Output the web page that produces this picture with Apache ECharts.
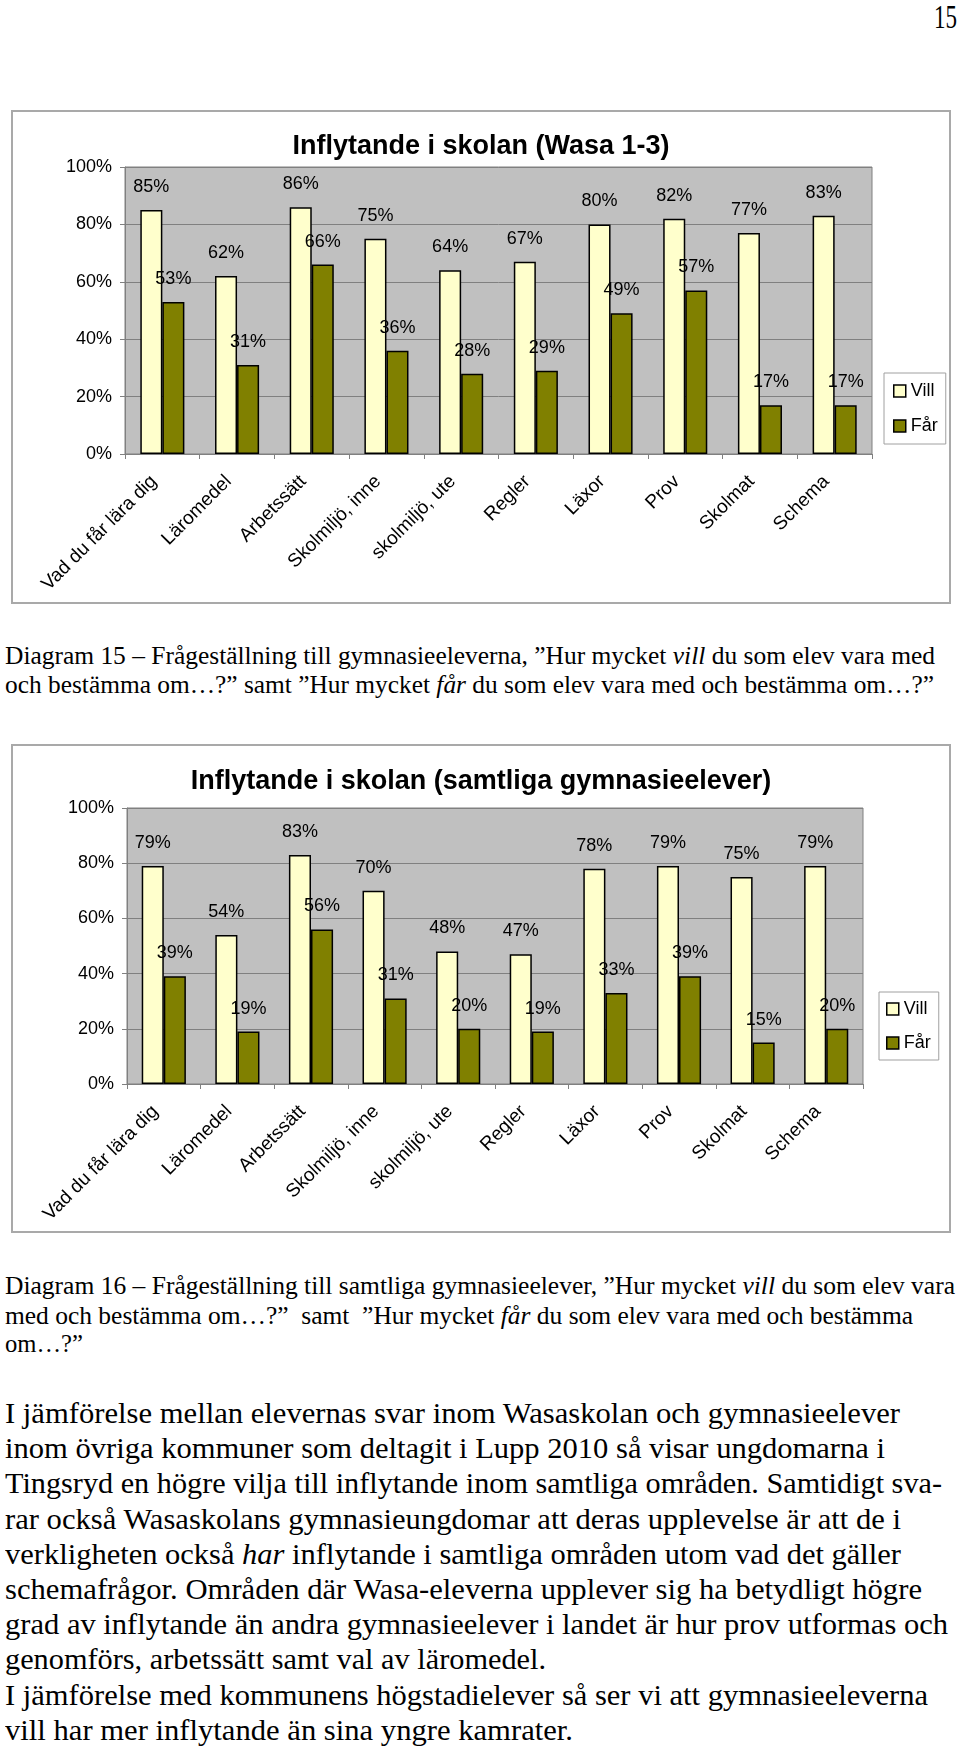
<!DOCTYPE html>
<html><head><meta charset="utf-8">
<script src="https://cdn.jsdelivr.net/npm/echarts@6/dist/echarts.min.js"></script>
<style>
html,body{margin:0;padding:0;}
body{width:960px;height:1749px;background:#fff;position:relative;overflow:hidden;font-family:"Liberation Serif","Times New Roman",serif;color:#000}
.frame{position:absolute;box-sizing:border-box;border:2px solid #a9a9a9;background:#fff}
.chart{position:absolute}
.ln{position:absolute;left:5px;white-space:nowrap;transform-origin:0 50%;}
.cap{font-size:25.5px;line-height:30px;height:30px}
.par{font-size:29px;line-height:34px;height:34px}
</style></head><body>

<div class="ln" id="pnum" style="left:auto;font-size:34px;line-height:34px;top:0px;" data-w="23" data-r="957">15</div>

<div class="frame" style="left:11px;top:110px;width:940px;height:494px"></div>
<div class="chart" id="c1" style="left:11px;top:110px;width:940px;height:494px"></div>

<div class="ln cap" style="top:641px" data-w="930">Diagram 15 – Frågeställning till gymnasieeleverna, ”Hur mycket <i>vill</i> du som elev vara med</div>
<div class="ln cap" style="top:670px" data-w="929">och bestämma om…?” samt ”Hur mycket <i>får</i> du som elev vara med och bestämma om…?”</div>

<div class="frame" style="left:11px;top:744px;width:940px;height:489px"></div>
<div class="chart" id="c2" style="left:11px;top:744px;width:940px;height:489px"></div>

<div class="ln cap" style="top:1271px" data-w="950">Diagram 16 – Frågeställning till samtliga gymnasieelever, ”Hur mycket <i>vill</i> du som elev vara</div>
<div class="ln cap" style="top:1301px" data-w="908">med och bestämma om…?”&nbsp; samt&nbsp; ”Hur mycket <i>får</i> du som elev vara med och bestämma</div>
<div class="ln cap" style="top:1329px" data-w="78">om…?”</div>

<div class="ln par" style="top:1396px" data-w="895">I jämförelse mellan elevernas svar inom Wasaskolan och gymnasieelever</div>
<div class="ln par" style="top:1431px" data-w="880">inom övriga kommuner som deltagit i Lupp 2010 så visar ungdomarna i</div>
<div class="ln par" style="top:1466px" data-w="937">Tingsryd en högre vilja till inflytande inom samtliga områden. Samtidigt sva-</div>
<div class="ln par" style="top:1502px" data-w="896">rar också Wasaskolans gymnasieungdomar att deras upplevelse är att de i</div>
<div class="ln par" style="top:1537px" data-w="896">verkligheten också <i>har</i> inflytande i samtliga områden utom vad det gäller</div>
<div class="ln par" style="top:1572px" data-w="917">schemafrågor. Områden där Wasa-eleverna upplever sig ha betydligt högre</div>
<div class="ln par" style="top:1607px" data-w="943">grad av inflytande än andra gymnasieelever i landet är hur prov utformas och</div>
<div class="ln par" style="top:1642px" data-w="541">genomförs, arbetssätt samt val av läromedel.</div>
<div class="ln par" style="top:1678px" data-w="923">I jämförelse med kommunens högstadielever så ser vi att gymnasieeleverna</div>
<div class="ln par" style="top:1713px" data-w="568">vill har mer inflytande än sina yngre kamrater.</div>

<script>
// ---- data ----
const categories = ['Vad du får lära dig','Läromedel','Arbetssätt','Skolmiljö, inne','skolmiljö, ute','Regler','Läxor','Prov','Skolmat','Schema'];
const seriesNames = ['Vill','Får'];
const villWasa = [85,62,86,75,64,67,80,82,77,83];
const farWasa  = [53,31,66,36,28,29,49,57,17,17];
const villAll  = [79,54,83,70,48,47,78,79,75,79];
const farAll   = [39,19,56,31,20,19,33,39,15,20];
const title1 = 'Inflytande i skolan (Wasa 1-3)';
const title2 = 'Inflytande i skolan (samtliga gymnasieelever)';
const yMin = 0, yMax = 100, yStep = 20;

// fit text lines to measured widths
document.querySelectorAll('.ln[data-w]').forEach(el => {
  const w = el.getBoundingClientRect().width;
  const t = parseFloat(el.dataset.w);
  if (el.dataset.r) { el.style.left = (parseFloat(el.dataset.r) - t) + 'px'; }
  el.style.transform = 'scaleX(' + (t / w) + ')';
});

const FONT = '"Liberation Sans", Arial, sans-serif';
function build(title, vill, far, L) {
  const lbl = {show:true, position:'top', distance:14, formatter:'{c}%', fontSize:18, color:'#000', fontFamily:FONT};
  return {
    animation:false,
    textStyle:{fontFamily:FONT},
    title:{text:title, left:'center', top:L.titleTop, padding:0,
      textStyle:{fontSize:27, fontWeight:'bold', color:'#000', fontFamily:FONT}},
    legend:{data:seriesNames, orient:'vertical', left:L.legLeft, top:L.legTop,
      icon:'rect', itemWidth:12, itemHeight:12, itemGap:L.legGap,
      padding:L.legPad, borderColor:'#a0a0a0', borderWidth:1, backgroundColor:'#fff',
      itemStyle:{borderColor:'#000', borderWidth:1.5},
      textStyle:{fontSize:18, color:'#000', fontFamily:FONT}},
    grid:{left:L.gl, top:L.gt, width:L.gw, height:L.gh, show:true,
      backgroundColor:'#c0c0c0', borderColor:'#808080', borderWidth:1,
      containLabel:false, outerBoundsMode:'none'},
    xAxis:{type:'category', data:categories,
      axisLine:{lineStyle:{color:'#808080', width:1}},
      axisTick:{show:true, length:5, alignWithLabel:false, lineStyle:{color:'#808080'}},
      axisLabel:{interval:0, rotate:45, fontSize:19, color:'#000', margin:L.xMargin,
        padding:[0,12,0,0], fontFamily:FONT},
      splitLine:{show:false}},
    yAxis:{type:'value', min:yMin, max:yMax, interval:yStep,
      axisLine:{show:true, lineStyle:{color:'#808080'}},
      axisTick:{show:true, length:5, lineStyle:{color:'#808080'}},
      axisLabel:{formatter:'{value}%', fontSize:18, color:'#000', margin:13, fontFamily:FONT},
      splitLine:{show:true, lineStyle:{color:'#808080', width:1}}},
    series:[
      {name:seriesNames[0], type:'bar', data:vill, barGap:'0%', barCategoryGap:L.bcg,
        itemStyle:{color:'#ffffcc', borderColor:'#000', borderWidth:1.5}, label:lbl},
      {name:seriesNames[1], type:'bar', data:far, barGap:'0%', barCategoryGap:L.bcg,
        itemStyle:{color:'#808000', borderColor:'#000', borderWidth:1.5}, label:lbl}
    ]
  };
}

const c1 = echarts.init(document.getElementById('c1'), null, {renderer:'canvas'});
c1.setOption(build(title1, villWasa, farWasa, {
  titleTop:23, legLeft:873, legTop:263, legGap:17, legPad:[9,8,9,9],
  gl:114, gt:57, gw:747, gh:287, xMargin:16, bcg:'41%'}));

const c2 = echarts.init(document.getElementById('c2'), null, {renderer:'canvas'});
c2.setOption(build(title2, villAll, farAll, {
  titleTop:24, legLeft:868, legTop:248, legGap:16, legPad:[8,8,8,7],
  gl:116, gt:64, gw:736, gh:276, xMargin:16, bcg:'40%'}));
</script>
</body></html>
